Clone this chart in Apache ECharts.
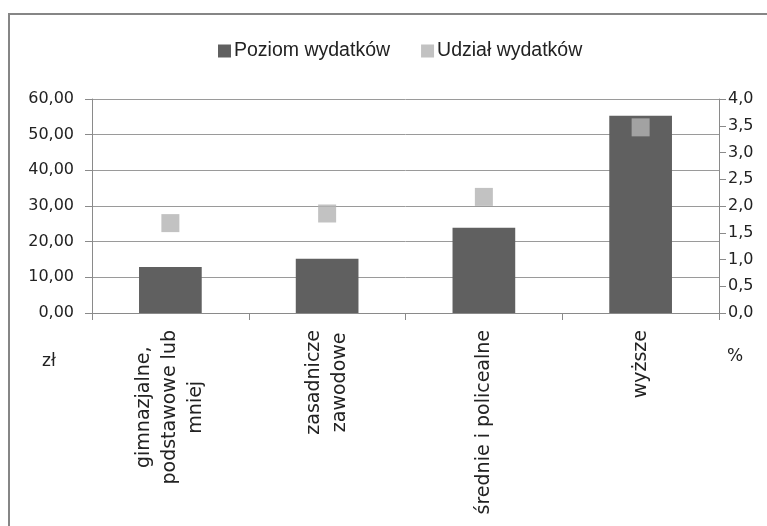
<!DOCTYPE html>
<html>
<head>
<meta charset="utf-8">
<script src="https://cdn.jsdelivr.net/npm/echarts@6/dist/echarts.min.js"></script>
<style>
html,body{margin:0;padding:0;background:#fff;}
#chart{width:767px;height:526px;}
</style>
</head>
<body>
<div id="chart"></div>
<script>
const categories = ['gimnazjalne,\npodstawowe lub\nmniej', 'zasadnicze\nzawodowe', 'średnie i policealne', 'wyższe'];
const poziomWydatkow = [12.9, 15.2, 23.9, 55.3];
const udzialWydatkow = [1.68, 1.86, 2.17, 3.47];
const seriesNames = ['Poziom wydatków', 'Udział wydatków'];
const leftUnit = 'zł';
const rightUnit = '%';

const FONT = 'DejaVu Sans';
const chart = echarts.init(document.getElementById('chart'), null, {renderer: 'canvas'});
const axisGray = '#8a8a8a';

chart.setOption({
  animation: false,
  backgroundColor: '#ffffff',
  legend: {
    left: 213,
    top: 36,
    itemWidth: 13,
    itemHeight: 13,
    itemGap: 31,
    icon: 'rect',
    textStyle: {fontFamily: 'Liberation Sans', fontSize: 19.5, color: '#222', padding: [0, 0, 0, -2]},
    data: seriesNames
  },
  grid: {left: 92, right: 48, top: 99, bottom: 213, containLabel: false},
  xAxis: {
    type: 'category',
    data: categories,
    axisLine: {show: true, lineStyle: {color: axisGray, width: 1}},
    axisTick: {show: true, length: 7, lineStyle: {color: axisGray}},
    axisLabel: {
      rotate: 90,
      margin: 17,
      interval: 0,
      formatter: v => v.split('\n').map(l => '{c|' + l + '}').join('\n'),
      rich: {
        c: {align: 'center', fontFamily: FONT, fontSize: 19, lineHeight: 26, color: '#222'}
      }
    }
  },
  yAxis: [
    {
      type: 'value', min: 0, max: 60, interval: 10,
      axisLine: {show: true, lineStyle: {color: axisGray}},
      axisTick: {show: true, length: 7, lineStyle: {color: axisGray}},
      splitLine: {show: true, lineStyle: {color: '#9a9a9a', width: 1}},
      axisLabel: {
        margin: 18, fontFamily: FONT, fontSize: 16, color: '#222',
        formatter: v => v.toFixed(2).replace('.', ',')
      }
    },
    {
      type: 'value', min: 0, max: 4, interval: 0.5,
      position: 'right',
      axisLine: {show: true, lineStyle: {color: axisGray}},
      axisTick: {show: true, length: 7, lineStyle: {color: axisGray}},
      splitLine: {show: false},
      axisLabel: {
        margin: 9, fontFamily: FONT, fontSize: 16, color: '#222',
        formatter: v => v.toFixed(1).replace('.', ',')
      }
    }
  ],
  graphic: [
    {type: 'rect', shape: {x: 9, y: 14, width: 820, height: 600}, style: {fill: 'none', stroke: '#868686', lineWidth: 2}, silent: true},
    {type: 'text', left: 42, top: 353, style: {text: leftUnit, fontFamily: FONT, fontSize: 17, fill: '#222'}},
    {type: 'text', left: 727, top: 348, style: {text: rightUnit, fontFamily: FONT, fontSize: 17, fill: '#222'}}
  ],
  series: [
    {
      name: seriesNames[0], type: 'bar', data: poziomWydatkow, yAxisIndex: 0,
      barWidth: '40%', itemStyle: {color: '#606060'}
    },
    {
      name: seriesNames[1], type: 'scatter', data: udzialWydatkow, yAxisIndex: 1,
      symbol: 'rect', symbolSize: 18, itemStyle: {color: '#b3b3b3'}
    }
  ]
});
</script>
</body>
</html>
